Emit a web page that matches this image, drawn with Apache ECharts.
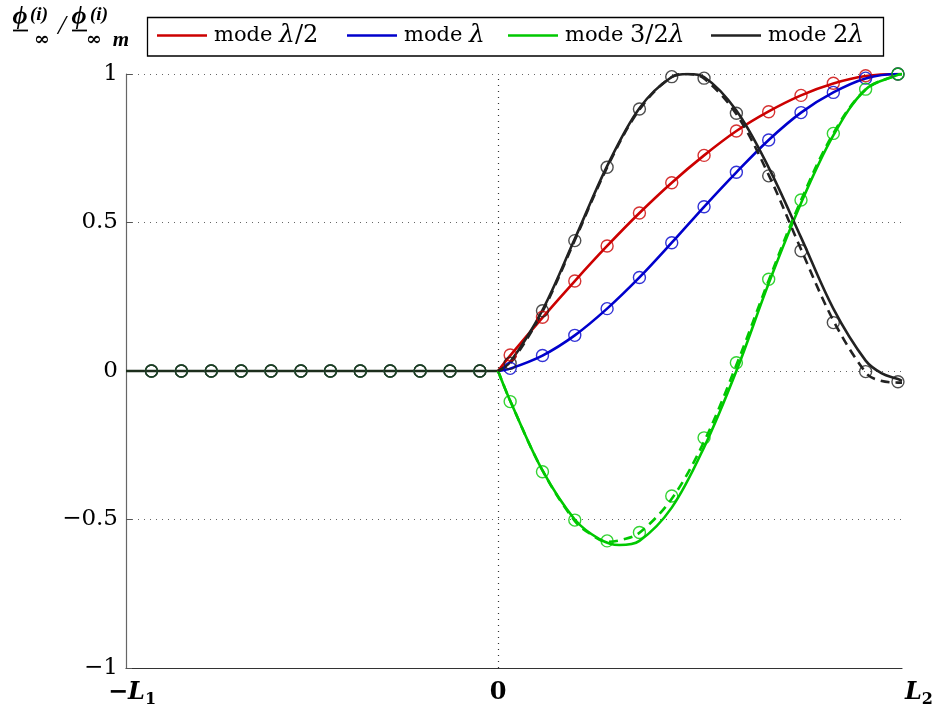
<!DOCTYPE html>
<html><head><meta charset="utf-8">
<script src="https://cdn.jsdelivr.net/npm/echarts@6/dist/echarts.min.js"></script>
<style>html,body{margin:0;padding:0;background:#fff}#c{width:936px;height:715px}</style>
</head><body><div id="c"></div>
<script>
// ---- axis extents (L2 = 1 unit) ----
const L1 = 0.921;
const L2 = 1.0;
const xTickValues = [-L1, 0, L2];
const xTickLabels = ['{a|−}{i|L}{s|1}', '{m|0}', '{b|L}{s|2}'];
const yTickValues = [-1, -0.5, 0, 0.5, 1];

// ---- legend names ----
const modeNames = ['mode λ/2', 'mode λ', 'mode 3/2λ', 'mode 2λ'];

// ---- flat segment on the left domain ----
const flatX = [-L1, 0];
const flatY = [0, 0];

// ---- marker positions ----
const leftMarkerX = [-0.858, -0.784, -0.710, -0.636, -0.562, -0.488, -0.415, -0.341, -0.267, -0.193, -0.119, -0.045];
const rightMarkerX = [0.03, 0.11, 0.19, 0.27, 0.35, 0.43, 0.51, 0.59, 0.67, 0.75, 0.83, 0.91, 0.99];

// ---- marker values (right domain) ----
const redMarkers   = [0.054, 0.181, 0.303, 0.421, 0.532, 0.634, 0.726, 0.808, 0.873, 0.928, 0.969, 0.994, 1.0];
const blueMarkers  = [0.009, 0.052, 0.120, 0.210, 0.315, 0.432, 0.553, 0.669, 0.778, 0.870, 0.938, 0.986, 1.0];
const greenMarkers = [-0.103, -0.339, -0.502, -0.572, -0.544, -0.421, -0.225, 0.028, 0.309, 0.576, 0.800, 0.949, 1.0];
const blackMarkers = [0.026, 0.203, 0.439, 0.686, 0.882, 0.991, 0.986, 0.868, 0.657, 0.405, 0.163, -0.002, -0.036];

// ---- solid curves ----
const curveX     = [0, 0.03, 0.11, 0.19, 0.27, 0.35, 0.43, 0.51, 0.59, 0.67, 0.75, 0.83, 0.91, 0.99, 1.0];
const redSolid   = [0, 0.052, 0.180, 0.303, 0.421, 0.532, 0.634, 0.726, 0.808, 0.874, 0.928, 0.968, 0.993, 1.0, 1.0];
const blueSolid  = [0, 0.008, 0.052, 0.120, 0.210, 0.315, 0.432, 0.553, 0.669, 0.778, 0.870, 0.938, 0.985, 1.0, 1.0];
const greenSolidX = [0, 0.03, 0.11, 0.19, 0.25, 0.30, 0.35, 0.43, 0.51, 0.59, 0.67, 0.75, 0.83, 0.91, 0.99, 1.0];
const greenSolid  = [0, -0.100, -0.335, -0.500, -0.565, -0.586, -0.572, -0.460, -0.257, 0.000, 0.295, 0.565, 0.793, 0.948, 0.997, 1.0];
const blackSolidX = [0, 0.03, 0.11, 0.19, 0.27, 0.35, 0.43, 0.47, 0.51, 0.59, 0.67, 0.75, 0.83, 0.91, 0.95, 0.99, 1.0];
const blackSolid  = [0, 0.030, 0.205, 0.445, 0.690, 0.885, 0.990, 1.000, 0.990, 0.877, 0.685, 0.450, 0.210, 0.035, -0.008, -0.027, -0.033];

// ---- dashed curves ----
const greenDashX = [0, 0.03, 0.11, 0.19, 0.23, 0.27, 0.31, 0.35, 0.43, 0.51, 0.59, 0.67, 0.75, 0.83, 0.91, 0.99, 1.0];
const greenDash  = [0, -0.100, -0.335, -0.505, -0.550, -0.575, -0.567, -0.545, -0.430, -0.238, 0.020, 0.305, 0.575, 0.800, 0.948, 0.998, 1.0];
const blackDashX = [0, 0.03, 0.11, 0.19, 0.27, 0.35, 0.43, 0.47, 0.51, 0.59, 0.67, 0.75, 0.83, 0.91, 0.94, 0.99, 1.0];
const blackDash  = [0, 0.025, 0.200, 0.440, 0.685, 0.880, 0.990, 1.000, 0.985, 0.865, 0.660, 0.410, 0.170, -0.005, -0.030, -0.039, -0.039];

const colors = ['#cc0000', '#0000cc', '#00c800', '#222222'];
const FONT = '"DejaVu Serif", "Liberation Serif", serif';
const LFONT = '"Liberation Serif", "DejaVu Serif", serif';

const zip = (xs, ys) => xs.map((x, i) => [x, ys[i]]);
const markerData = ys => leftMarkerX.map(x => [x, 0]).concat(zip(rightMarkerX, ys));

function solid(name, xs, ys, c) {
  return { name, type: 'line', data: zip(xs, ys), smooth: 0.35, showSymbol: false, symbol: 'none',
    lineStyle: { color: c, width: 2.6 }, itemStyle: { color: c }, z: 3, silent: true };
}
function dashed(xs, ys, c) {
  return { name: 'dash', type: 'line', data: zip(xs, ys), smooth: 0.35, showSymbol: false, symbol: 'none',
    lineStyle: { color: c, width: 2.6, type: [9, 6] }, z: 4, silent: true };
}
function markers(ys, c) {
  return { name: 'mk', type: 'scatter', data: markerData(ys), symbol: 'circle', symbolSize: 12,
    itemStyle: { color: 'rgba(0,0,0,0)', borderColor: c, borderWidth: 1.4 }, z: 5, silent: true };
}

// legend: one component per entry, placed at the reference positions
const legendIconLeft = [157, 347, 508, 711];
const legendRich = {
  n: { fontFamily: FONT, fontSize: 21, color: '#000' },
  m: { fontFamily: FONT, fontSize: 24, color: '#000' },
  i: { fontFamily: FONT, fontStyle: 'italic', fontSize: 25, color: '#000' }
};
function legendLabel(name) {
  const math = name.slice(5);
  return '{n|mode }' + math.split('λ').map(s => s ? '{m|' + s + '}' : '').join('{i|λ}');
}
const legends = modeNames.map((n, k) => ({
  data: [n], left: legendIconLeft[k], top: 23, padding: 0,
  icon: 'rect', itemWidth: 50, itemHeight: 2.5, itemGap: 0,
  formatter: legendLabel,
  textStyle: { fontFamily: FONT, fontSize: 21, color: '#000', padding: [0, 0, 0, 2], rich: legendRich }
}));

const chart = echarts.init(document.getElementById('c'), null, { renderer: 'canvas' });
const option = {
  animation: false,
  backgroundColor: '#fff',
  grid: { left: 126, right: 32, top: 74, bottom: 47, containLabel: false },
  legend: legends,
  xAxis: {
    type: 'value', min: -L1, max: L2,
    axisLine: { onZero: false, lineStyle: { color: '#333', width: 1.2 } },
    axisTick: { show: false },
    splitLine: { show: false },
    axisLabel: {
      customValues: xTickValues, margin: 10, showMinLabel: true, showMaxLabel: true,
      formatter: v => xTickLabels[xTickValues.findIndex(t => Math.abs(t - v) < 1e-6)] || '',
      rich: {
        a: { fontFamily: FONT, fontSize: 24, color: '#000', fontWeight: 'bold', verticalAlign: 'middle', lineHeight: 30, padding: [0, 0, 0, 12] },
        m: { fontFamily: FONT, fontSize: 24, color: '#000', fontWeight: 'bold', verticalAlign: 'middle', lineHeight: 30 },
        i: { fontFamily: FONT, fontSize: 24, color: '#000', fontStyle: 'italic', fontWeight: 'bold', verticalAlign: 'middle', lineHeight: 30 },
        b: { fontFamily: FONT, fontSize: 24, color: '#000', fontStyle: 'italic', fontWeight: 'bold', verticalAlign: 'middle', lineHeight: 30, padding: [0, 0, 0, 34] },
        s: { fontFamily: FONT, fontSize: 16, color: '#000', fontWeight: 'bold', verticalAlign: 'bottom', lineHeight: 16 }
      }
    }
  },
  yAxis: {
    type: 'value', min: -1, max: 1, interval: 0.5,
    axisLine: { show: true, onZero: false, lineStyle: { color: '#666', width: 1.2 } },
    axisTick: { show: true, inside: true, length: 6, lineStyle: { color: '#555' } },
    splitLine: { show: true, lineStyle: { color: '#666', width: 1, type: [1, 5] } },
    axisLabel: { fontFamily: FONT, fontSize: 23, color: '#000', margin: 8,
      formatter: v => String(v).replace('-', '−') }
  },
  series: [
    { name: 'flat', type: 'line', data: zip(flatX, flatY), showSymbol: false, symbol: 'none',
      lineStyle: { color: '#1c2e1c', width: 2.6 }, z: 3, silent: true,
      markLine: { silent: true, symbol: 'none', label: { show: false },
        lineStyle: { color: '#333', width: 1.2, type: [1, 5] }, data: [{ xAxis: 0 }] } },
    solid(modeNames[0], curveX, redSolid, colors[0]),
    solid(modeNames[1], curveX, blueSolid, colors[1]),
    solid(modeNames[2], greenSolidX, greenSolid, colors[2]),
    solid(modeNames[3], blackSolidX, blackSolid, colors[3]),
    dashed(greenDashX, greenDash, colors[2]),
    dashed(blackDashX, blackDash, colors[3]),
    markers(redMarkers, colors[0]),
    markers(blueMarkers, colors[1]),
    markers(greenMarkers, colors[2]),
    markers(blackMarkers, colors[3])
  ],
  graphic: [
    { type: 'rect', shape: { x: 147.5, y: 17.5, width: 736, height: 38.5 }, style: { fill: 'none', stroke: '#000', lineWidth: 1.3 } },
    { type: 'text', x: 20, y: 17, style: { text: 'ϕ', font: 'italic bold 26px ' + LFONT, fill: '#000', align: 'center', verticalAlign: 'middle' } },
    { type: 'text', x: 39, y: 15, style: { text: '(i)', font: 'italic bold 19px ' + LFONT, fill: '#000', align: 'center', verticalAlign: 'middle' } },
    { type: 'text', x: 42, y: 40, style: { text: '∞', font: 'bold 19px ' + FONT, fill: '#000', align: 'center', verticalAlign: 'middle' } },
    { type: 'line', shape: { x1: 13, y1: 30.5, x2: 28, y2: 30.5 }, style: { stroke: '#000', lineWidth: 1.8 } },
    { type: 'text', x: 62, y: 27, style: { text: '/', font: 'italic 28px ' + LFONT, fill: '#000', align: 'center', verticalAlign: 'middle' } },
    { type: 'text', x: 79, y: 17, style: { text: 'ϕ', font: 'italic bold 26px ' + LFONT, fill: '#000', align: 'center', verticalAlign: 'middle' } },
    { type: 'text', x: 99, y: 15, style: { text: '(i)', font: 'italic bold 19px ' + LFONT, fill: '#000', align: 'center', verticalAlign: 'middle' } },
    { type: 'text', x: 94, y: 40, style: { text: '∞', font: 'bold 19px ' + FONT, fill: '#000', align: 'center', verticalAlign: 'middle' } },
    { type: 'text', x: 121, y: 41, style: { text: 'm', font: 'italic bold 21px ' + LFONT, fill: '#000', align: 'center', verticalAlign: 'middle' } },
    { type: 'line', shape: { x1: 72, y1: 30.5, x2: 87, y2: 30.5 }, style: { stroke: '#000', lineWidth: 1.8 } }
  ]
};
chart.setOption(option);
</script></body></html>
